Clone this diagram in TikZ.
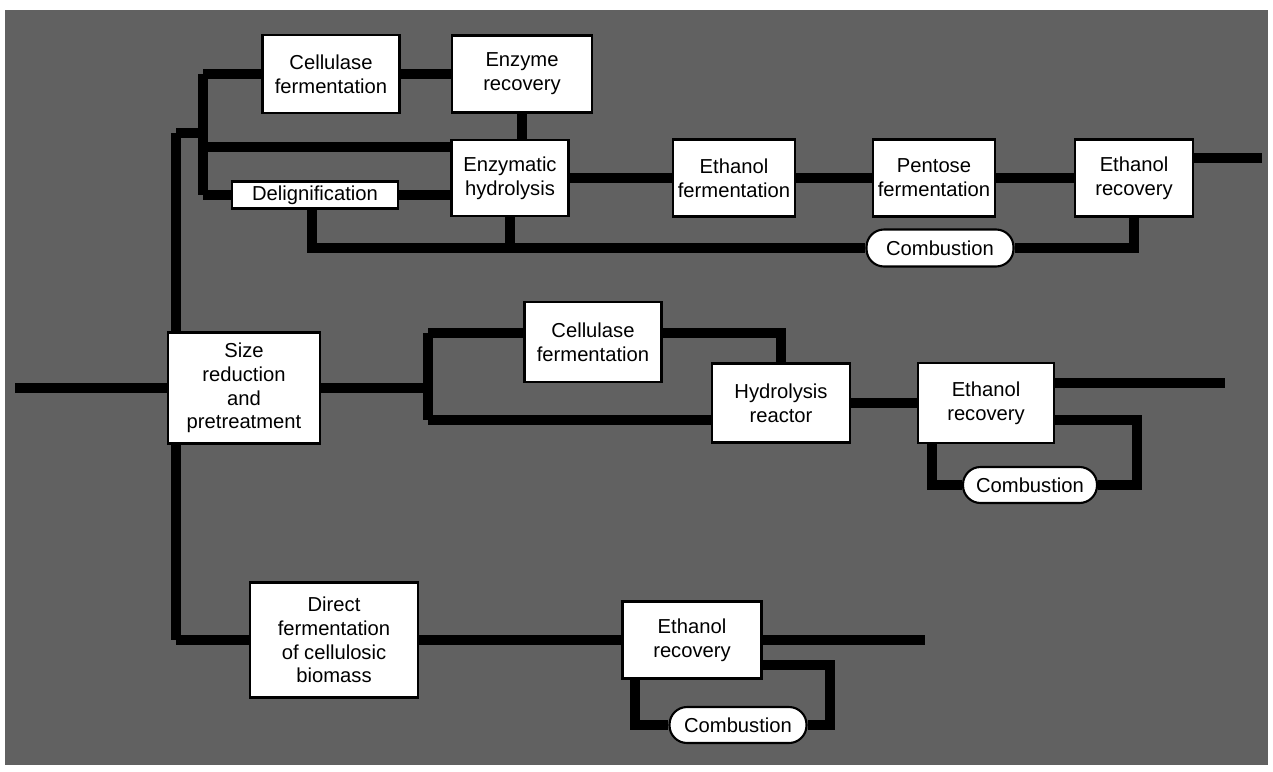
\documentclass[tikz,border=0pt]{standalone}
\usepackage{fontspec}
\setmainfont{Liberation Sans}
\usepackage{tikz}
\usetikzlibrary{positioning,calc,backgrounds}

\begin{document}
\begin{tikzpicture}[x=0.02cm, y=-0.02cm, font=\fontsize{11.5}{13.5}\selectfont,
    box/.style={draw=black, line width=1.2pt, fill=white, align=center, inner sep=0pt},
    pill/.style={box, rounded corners=0.35cm},
    flow/.style={line width=6pt, black}]
    \useasboundingbox (0,0) rectangle (1273,771);

    % Top route: enzymatic hydrolysis
    \node[box, minimum width=2.74cm, minimum height=1.56cm] (cellA) at (331,74) {Cellulase\\fermentation};
    \node[box, minimum width=2.8cm, minimum height=1.54cm] (enzrec) at (522,74) {Enzyme\\recovery};
    \node[box, minimum width=2.34cm, minimum height=1.52cm] (hydro) at (510,178) {Enzymatic\\hydrolysis};
    \node[box, minimum width=3.32cm, minimum height=0.54cm] (delig) at (315,195) {Delignification};
    \node[box, minimum width=2.44cm, minimum height=1.54cm] (ethferm) at (734,178) {Ethanol\\fermentation};
    \node[box, minimum width=2.44cm, minimum height=1.54cm] (pentose) at (934,178) {Pentose\\fermentation};
    \node[box, minimum width=2.36cm, minimum height=1.54cm] (ethrecA) at (1134,178) {Ethanol\\recovery};
    \node[pill, minimum width=2.94cm, minimum height=0.74cm] (combA) at (940,248) {Combustion};

    % Middle route: hydrolysis reactor
    \node[box, minimum width=3.04cm, minimum height=2.22cm] (size) at (244,388) {Size\\reduction\\and\\pretreatment};
    \node[box, minimum width=2.74cm, minimum height=1.6cm] (cellB) at (593,342) {Cellulase\\fermentation};
    \node[box, minimum width=2.76cm, minimum height=1.58cm] (reactor) at (781,403) {Hydrolysis\\reactor};
    \node[box, minimum width=2.72cm, minimum height=1.6cm] (ethrecB) at (986,403) {Ethanol\\recovery};
    \node[pill, minimum width=2.68cm, minimum height=0.72cm] (combB) at (1030,485) {Combustion};

    % Bottom route: direct fermentation
    \node[box, minimum width=3.36cm, minimum height=2.3cm] (direct) at (334,640) {Direct\\fermentation\\of cellulosic\\biomass};
    \node[box, minimum width=2.78cm, minimum height=1.54cm] (ethrecC) at (692,640) {Ethanol\\recovery};
    \node[pill, minimum width=2.74cm, minimum height=0.72cm] (combC) at (738,725) {Combustion};

    % Bend points and free ends
    \coordinate (feed) at (15,388);
    \coordinate (trunkT) at (176,133);
    \coordinate (trunkB) at (176,640);
    \coordinate (splitT) at (203,74);
    \coordinate (splitM) at (203,147);
    \coordinate (splitB) at (203,195);
    \coordinate (resA) at (312,248);
    \coordinate (outA) at (1262,158);
    \coordinate (splitC) at (428,388);
    \coordinate (midT) at (428,333);
    \coordinate (midB) at (428,420);
    \coordinate (outB) at (1225,383);
    \coordinate (loopB) at (1137,420);
    \coordinate (dropB) at (932,485);
    \coordinate (outC) at (925,640);
    \coordinate (loopC) at (830,665);
    \coordinate (dropC) at (635,725);

    \begin{pgfonlayer}{background}
        \fill[black!62] (5,10) rectangle (1268,765);

        % Feed and trunk
        \draw[flow] (feed) -- (size);
        \draw[flow] (trunkT) -- (trunkB);
        \draw[flow] (trunkB) -- (trunkB -| direct.west);
        \draw[flow] (trunkT) -- (trunkT -| splitT);

        % Top route
        \draw[flow] (splitT) -- (splitB);
        \draw[flow] (splitT) -- (splitT -| cellA.west);
        \draw[flow] (splitM) -- (splitM -| hydro.west);
        \draw[flow] (splitB) -- (delig);
        \draw[flow] (delig.east) -- (delig.east -| hydro.west);
        \draw[flow] (cellA) -- (enzrec);
        \draw[flow] (enzrec.south) -- (enzrec.south |- hydro.north);
        \draw[flow] (hydro) -- (ethferm);
        \draw[flow] (ethferm) -- (pentose);
        \draw[flow] (pentose) -- (ethrecA);
        \draw[flow] (outA -| ethrecA.east) -- (outA);
        \draw[flow] (delig.south -| resA) -- (resA) -- (combA);
        \draw[flow] (hydro.south) -- (hydro.south |- resA);
        \draw[flow] (ethrecA.south) |- (combA.east);

        % Middle route
        \draw[flow] (size.east) -- (splitC);
        \draw[flow] (midT) -- (midB);
        \draw[flow] (midT) -- (midT -| cellB.west);
        \draw[flow] (midB) -- (midB -| reactor.west);
        \draw[flow] (cellB.east |- midT) -| (reactor.north);
        \draw[flow] (reactor) -- (ethrecB);
        \draw[flow] (outB -| ethrecB.east) -- (outB);
        \draw[flow] (loopB -| ethrecB.east) -- (loopB) |- (combB.east);
        \draw[flow] (ethrecB.south -| dropB) -- (dropB) -- (combB);

        % Bottom route
        \draw[flow] (direct) -- (ethrecC);
        \draw[flow] (ethrecC.east) -- (outC);
        \draw[flow] (loopC -| ethrecC.east) -- (loopC) |- (combC.east);
        \draw[flow] (ethrecC.south -| dropC) -- (dropC) -- (combC);
    \end{pgfonlayer}
\end{tikzpicture}
\end{document}
